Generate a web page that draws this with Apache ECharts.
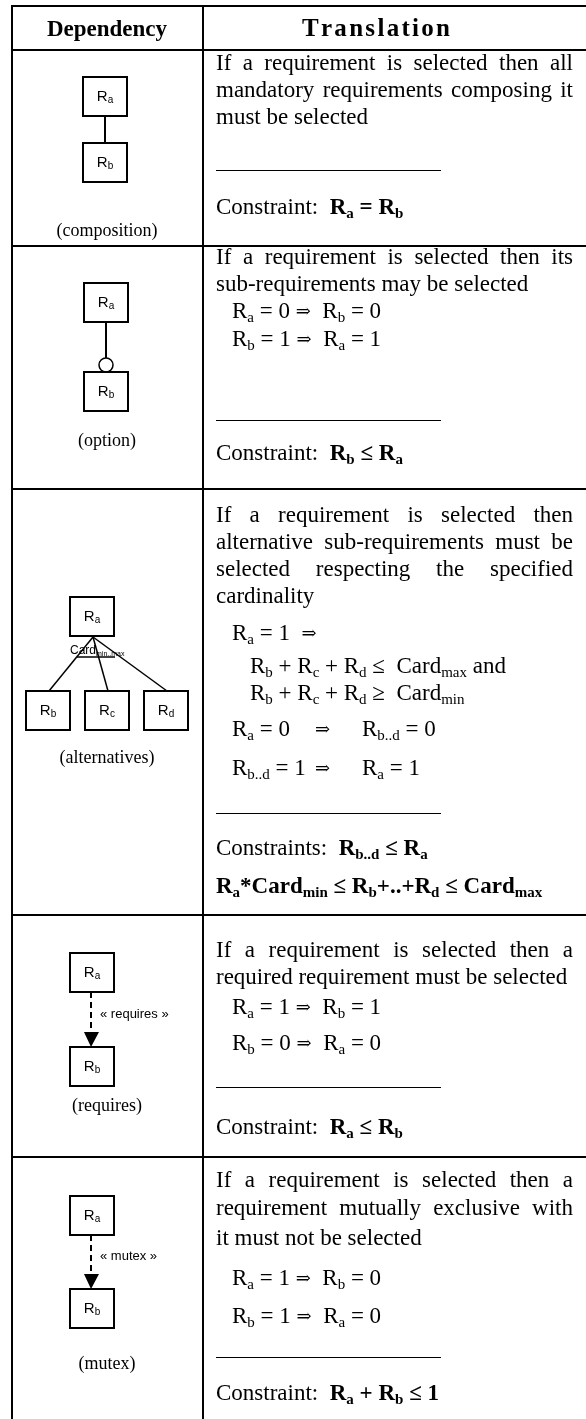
<!DOCTYPE html>
<html>
<head>
<meta charset="utf-8">
<script src="https://cdn.jsdelivr.net/npm/echarts@6/dist/echarts.min.js"></script>
<style>
  html, body { margin: 0; padding: 0; background: #fff; }
  #chart { width: 586px; height: 1419px; }
</style>
</head>
<body>
<div id="chart"></div>
<script>
// ---- data (text content of the table) ----
const headers = ['Dependency', 'Translation'];
const dependencyKinds = ['composition', 'option', 'alternatives', 'requires', 'mutex'];
const dependencyNames = ['(composition)', '(option)', '(alternatives)', '(requires)', '(mutex)'];
const diagramBoxes = [['a', 'b'], ['a', 'b'], ['a', 'b', 'c', 'd'], ['a', 'b'], ['a', 'b']];
const stereotypes = ['', '', 'Card_min..max', '« requires »', '« mutex »'];

// paragraph lines; the last line of each paragraph is left aligned, others justified
const paragraphs = [
  ['If a requirement is selected then all', 'mandatory requirements composing it', 'must be selected'],
  ['If a requirement is selected then its', 'sub-requirements may be selected'],
  ['If a requirement is selected then', 'alternative sub-requirements must be', 'selected respecting the specified', 'cardinality'],
  ['If a requirement is selected then a', 'required requirement must be selected'],
  ['If a requirement is selected then a', 'requirement mutually exclusive with', 'it must not be selected']
];
// "_x" = subscript, "**" toggles bold, "\t" = tab stop
const formulas = [
  [],
  ['R_a = 0 ⇒  R_b = 0', 'R_b = 1 ⇒  R_a = 1'],
  ['R_a = 1  ⇒', 'R_b + R_c + R_d ≤  Card_max and', 'R_b + R_c + R_d ≥  Card_min', 'R_a = 0\t⇒\tR_b..d = 0', 'R_b..d = 1\t⇒\tR_a = 1'],
  ['R_a = 1 ⇒  R_b = 1', 'R_b = 0 ⇒  R_a = 0'],
  ['R_a = 1 ⇒  R_b = 0', 'R_b = 1 ⇒  R_a = 0']
];
const constraints = [
  ['Constraint:  **R_a = R_b**'],
  ['Constraint:  **R_b ≤ R_a**'],
  ['Constraints:  **R_b..d ≤ R_a**', '**R_a*Card_min ≤ R_b+..+R_d ≤ Card_max**'],
  ['Constraint:  **R_a ≤ R_b**'],
  ['Constraint:  **R_a + R_b ≤ 1**']
];

// ---- layout ----
const SERIF = '"Liberation Serif", "Times New Roman", "DejaVu Serif", serif';
const SANS = '"Liberation Sans", Arial, "DejaVu Sans", sans-serif';
const TABLE = { left: 12, divider: 203, right: 586, top: 6, headerBottom: 50, bottom: 1419 };
const rowBottoms = [246, 489, 915, 1157];
const TEXT_LEFT = 216;
const TEXT_RIGHT = 573;
const TEXT_DY = 2; // canvas "middle" sits a bit above the cap centre
const FORMULA_LEFT = 232;
const TAB_STOPS = [315, 362];
const SEP_RIGHT = 441;
const TITLE_SPAN = [302, 450];
const rowLayout = [
  { para: [62, 89, 116], formulas: [], indent: [], sep: 170, constraints: [206] },
  { para: [256, 283], formulas: [310, 338], indent: [], sep: 420, constraints: [452] },
  { para: [514, 541, 568, 595], formulas: [632, 665, 692, 728, 767], indent: [232, 250, 250, 232, 232], sep: 813, constraints: [847, 885] },
  { para: [949, 976], formulas: [1006, 1042], indent: [], sep: 1087, constraints: [1126] },
  { para: [1179, 1207, 1237], formulas: [1277, 1315], indent: [], sep: 1357, constraints: [1392] }
];
const BOX_W = 44;
const BOX_H = 39;
const boxLayout = [
  [[83, 77], [83, 143]],
  [[84, 283], [84, 372]],
  [[70, 597], [26, 691], [85, 691], [144, 691]],
  [[70, 953], [70, 1047]],
  [[70, 1196], [70, 1289]]
];
const nameY = [231, 441, 758, 1106, 1364];
const COL_CENTER = 107;

const RICH = {
  n: { fontFamily: SERIF, fontSize: 23, lineHeight: 27, color: '#000' },
  ns: { fontFamily: SERIF, fontSize: 15, lineHeight: 14, color: '#000', verticalAlign: 'bottom' },
  na: { fontFamily: '"DejaVu Serif", serif', fontSize: 18, lineHeight: 27, color: '#000' },
  b: { fontFamily: SERIF, fontSize: 23, fontWeight: 'bold', lineHeight: 27, color: '#000' },
  bs: { fontFamily: SERIF, fontSize: 15, fontWeight: 'bold', lineHeight: 14, color: '#000', verticalAlign: 'bottom' },
  ba: { fontFamily: '"DejaVu Serif", serif', fontSize: 18, lineHeight: 27, color: '#000' },
  r: { fontFamily: SANS, fontSize: 15, lineHeight: 18, color: '#000' },
  rs: { fontFamily: SANS, fontSize: 10, lineHeight: 10, color: '#000', verticalAlign: 'bottom' },
  c: { fontFamily: SANS, fontSize: 12, lineHeight: 14, color: '#000' },
  cs: { fontFamily: SANS, fontSize: 7, lineHeight: 7, color: '#000', verticalAlign: 'bottom' }
};

const ctx = document.createElement('canvas').getContext('2d');
function measure(text, size, weight) {
  ctx.font = (weight || 'normal') + ' ' + size + 'px ' + SERIF;
  return ctx.measureText(text).width;
}

// turn the tiny markup into echarts rich text
function toRich(src, normal, bold) {
  normal = normal || 'n';
  bold = bold || 'b';
  let out = '';
  src.split('**').forEach((part, i) => {
    const key = i % 2 ? bold : normal;
    part.split(/_([a-z.]+)/).forEach((piece, j) => {
      if (!piece) return;
      if (j % 2) {
        out += '{' + key + 's|' + piece + '}';
        return;
      }
      piece.split(/(⇒)/).forEach(p => {
        if (!p) return;
        out += '{' + key + (p === '⇒' ? 'a' : '') + '|' + p + '}';
      });
    });
  });
  return out;
}

function plainText(text, x, y, opts) {
  return {
    type: 'text', x: x, y: y, silent: true,
    style: Object.assign({
      text: text, fontFamily: SERIF, fontSize: 23, fill: '#000',
      align: 'left', verticalAlign: 'middle'
    }, opts || {})
  };
}
function richText(src, x, y, align, keys) {
  return {
    type: 'text', x: x, y: y, silent: true,
    style: {
      text: toRich(src, keys && keys[0], keys && keys[1]), rich: RICH,
      align: align || 'left', verticalAlign: 'middle'
    }
  };
}
function line(x1, y1, x2, y2, w, dash) {
  return {
    type: 'line', silent: true,
    shape: { x1: x1, y1: y1, x2: x2, y2: y2 },
    style: { stroke: '#000', lineWidth: w || 2, lineDash: dash || null }
  };
}
// spread pieces evenly between two x positions (justified text)
function spread(pieces, x0, x1, y, size, weight) {
  const widths = pieces.map(p => measure(p, size, weight));
  const total = widths.reduce((a, b) => a + b, 0);
  const gap = (x1 - x0 - total) / (pieces.length - 1);
  let x = x0;
  pieces.forEach((p, k) => {
    elements.push(plainText(p, x, y, { fontSize: size, fontWeight: weight || 'normal' }));
    x += widths[k] + gap;
  });
}

const elements = [];

// table grid
elements.push(line(TABLE.left, TABLE.top, TABLE.right, TABLE.top));
elements.push(line(TABLE.left, TABLE.headerBottom, TABLE.right, TABLE.headerBottom));
rowBottoms.forEach(y => elements.push(line(TABLE.left, y, TABLE.right, y)));
elements.push(line(TABLE.left, TABLE.top - 1, TABLE.left, TABLE.bottom));
elements.push(line(TABLE.divider, TABLE.top - 1, TABLE.divider, TABLE.bottom));

// header
const headerY = (TABLE.top + TABLE.headerBottom) / 2 + TEXT_DY;
elements.push(plainText(headers[0], COL_CENTER, headerY, { fontWeight: 'bold', align: 'center' }));
spread(headers[1].split(''), TITLE_SPAN[0], TITLE_SPAN[1], headerY, 25, 'bold');

// right column: translations
paragraphs.forEach((lines, r) => {
  const lay = rowLayout[r];
  lines.forEach((ln, i) => {
    const y = lay.para[i] + TEXT_DY;
    if (i === lines.length - 1) {
      elements.push(plainText(ln, TEXT_LEFT, y));
    } else {
      spread(ln.split(' '), TEXT_LEFT, TEXT_RIGHT, y, 23);
    }
  });
  formulas[r].forEach((f, i) => {
    const y = lay.formulas[i] + TEXT_DY;
    f.split('\t').forEach((seg, k) => {
      const x = k === 0 ? (lay.indent[i] || FORMULA_LEFT) : TAB_STOPS[k - 1];
      elements.push(richText(seg, x, y));
    });
  });
  elements.push(line(TEXT_LEFT, lay.sep + 0.5, SEP_RIGHT, lay.sep + 0.5, 1));
  constraints[r].forEach((c, i) => elements.push(richText(c, TEXT_LEFT, lay.constraints[i] + TEXT_DY)));
});

// left column: dependency diagrams
dependencyKinds.forEach((kind, r) => {
  const boxes = boxLayout[r];
  const a = boxes[0];
  const aCx = a[0] + BOX_W / 2;
  const aBottom = a[1] + BOX_H;

  if (kind === 'composition') {
    const b = boxes[1];
    elements.push(line(aCx, aBottom, b[0] + BOX_W / 2, b[1]));
  } else if (kind === 'option') {
    const b = boxes[1];
    const r0 = 7;
    elements.push(line(aCx, aBottom, aCx, b[1] - 2 * r0));
    elements.push({
      type: 'circle', silent: true, z: 2,
      shape: { cx: aCx, cy: b[1] - r0, r: r0 },
      style: { fill: '#fff', stroke: '#000', lineWidth: 1.5 }
    });
  } else if (kind === 'alternatives') {
    const apexX = a[0] + 23;
    boxes.slice(1).forEach(b => elements.push(line(apexX, aBottom + 1, b[0] + BOX_W / 2 + 1, b[1], 1.5)));
    elements.push(line(a[0] + 7, aBottom + 21, a[0] + 45, aBottom + 21, 1.5));
    elements.push(richText(stereotypes[r], a[0], aBottom + 15, 'left', ['c', 'c']));
  } else {
    const b = boxes[1];
    const headTop = b[1] - 15;
    elements.push(line(aCx - 1, aBottom, aCx - 1, headTop, 2, [6, 4]));
    elements.push({
      type: 'polygon', silent: true,
      shape: { points: [[aCx - 8, headTop], [aCx + 7, headTop], [aCx - 1, b[1]]] },
      style: { fill: '#000' }
    });
    elements.push(plainText(stereotypes[r], aCx + 8, (aBottom + headTop) / 2 + 2,
      { fontFamily: SANS, fontSize: 13 }));
  }

  boxes.forEach((pos, k) => {
    elements.push({
      type: 'rect', silent: true, z: 3,
      shape: { x: pos[0], y: pos[1], width: BOX_W, height: BOX_H },
      style: { fill: '#fff', stroke: '#000', lineWidth: 2 }
    });
    const lbl = richText('R_' + diagramBoxes[r][k], pos[0] + BOX_W / 2, pos[1] + BOX_H / 2, 'center', ['r', 'r']);
    lbl.z = 4;
    elements.push(lbl);
  });

  elements.push(plainText(dependencyNames[r], COL_CENTER, nameY[r], { fontSize: 18, align: 'center' }));
});

const chart = echarts.init(document.getElementById('chart'), null, { renderer: 'canvas' });
chart.setOption({
  backgroundColor: '#fff',
  animation: false,
  graphic: { elements: elements }
});
</script>
</body>
</html>
